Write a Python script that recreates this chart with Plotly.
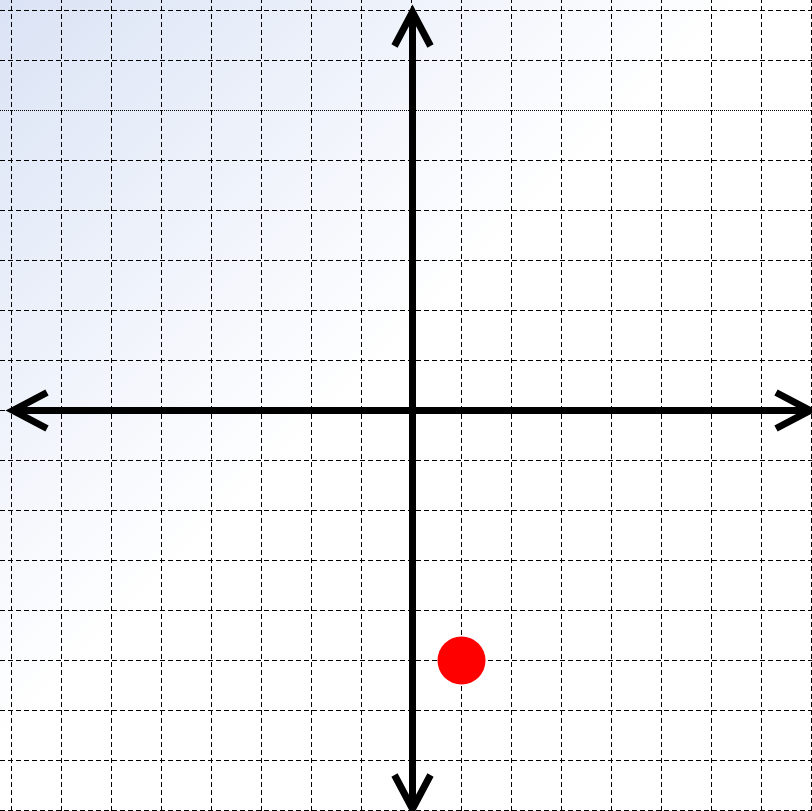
import base64
import plotly.graph_objects as go

# ---- data ----
point_x = [1]
point_y = [-5]
grid_values = list(range(-8, 9))
dotted_rows = [6]

# ---- layout constants ----
W, H = 812, 811
UNIT = 50.0
x_min = -8 - 11.5 / UNIT
x_max = x_min + W / UNIT
y_max = 8 + 10.5 / UNIT
y_min = y_max - H / UNIT

fig = go.Figure()

# gradient background (styling only)
svg = (
    '<svg xmlns="http://www.w3.org/2000/svg" width="812" height="811" viewBox="0 0 812 811" preserveAspectRatio="none">'
    '<defs><linearGradient id="g" x1="0" y1="0" x2="1" y2="1">'
    '<stop offset="0" stop-color="#dae3f5"/>'
    '<stop offset="0.46" stop-color="#ffffff"/>'
    '<stop offset="1" stop-color="#ffffff"/>'
    '</linearGradient></defs>'
    '<rect x="0" y="0" width="812" height="811" fill="url(#g)"/></svg>'
)
src = "data:image/svg+xml;base64," + base64.b64encode(svg.encode()).decode()

shapes = []
grid_color = "#000000"
for v in grid_values:
    shapes.append(dict(type="line", xref="x", yref="y", x0=v, x1=v, y0=y_min, y1=y_max,
                       line=dict(color=grid_color, width=1, dash="5px,3px"), layer="below"))
for v in grid_values:
    dash = "1px,1px" if v in dotted_rows else "5px,3px"
    shapes.append(dict(type="line", xref="x", yref="y", x0=x_min, x1=x_max, y0=v, y1=v,
                       line=dict(color=grid_color, width=1, dash=dash), layer="below"))

# axes with open arrowheads
tip = 7.97
wing_len = 0.68
wing_half = 0.36
axis_line = dict(color="black", width=7)
shapes.append(dict(type="line", x0=-tip, x1=tip, y0=0, y1=0, line=axis_line))
shapes.append(dict(type="line", x0=0.02, x1=0.02, y0=-tip, y1=tip, line=axis_line))
def chevron(ax, ay, dx, dy, px, py):
    return dict(type="path",
                path=f"M {ax+dx+px},{ay+dy+py} L {ax},{ay} L {ax+dx-px},{ay+dy-py}",
                line=axis_line)
shapes.append(chevron(tip, 0, -wing_len, 0, 0, wing_half))
shapes.append(chevron(-tip, 0, wing_len, 0, 0, wing_half))
shapes.append(chevron(0.02, tip, 0, -wing_len, wing_half, 0))
shapes.append(chevron(0.02, -tip, 0, wing_len, wing_half, 0))

fig.add_trace(go.Scatter(x=point_x, y=point_y, mode="markers",
                         marker=dict(color="#ff0000", size=48, line=dict(width=0)),
                         hoverinfo="skip", showlegend=False))

fig.update_layout(
    width=W, height=H,
    margin=dict(l=0, r=0, t=0, b=0),
    paper_bgcolor="white",
    plot_bgcolor="rgba(0,0,0,0)",
    shapes=shapes,
    images=[dict(source=src, xref="paper", yref="paper", x=0, y=1, sizex=1, sizey=1,
                 sizing="stretch", xanchor="left", yanchor="top", layer="below")],
    xaxis=dict(range=[x_min, x_max], showgrid=False, zeroline=False, showticklabels=False,
               ticks="", fixedrange=True),
    yaxis=dict(range=[y_min, y_max], showgrid=False, zeroline=False, showticklabels=False,
               ticks="", fixedrange=True),
    showlegend=False,
)

fig.write_html("out.html", config={"displayModeBar": False},
               post_script="document.body.style.margin='0';document.body.style.overflow='hidden';")
